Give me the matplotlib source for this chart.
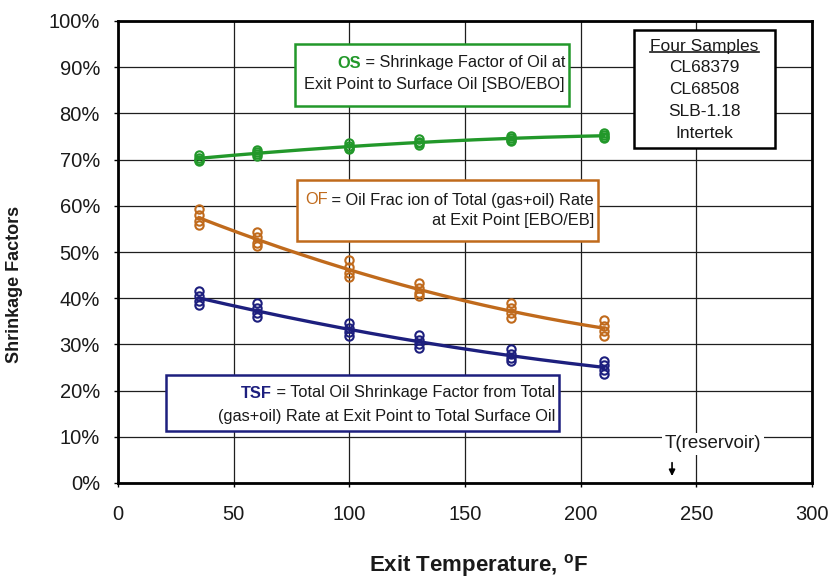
import numpy as np
import matplotlib
matplotlib.use("Agg")
import matplotlib.pyplot as plt
from matplotlib.offsetbox import TextArea, HPacker, AnnotationBbox
from matplotlib.ticker import FuncFormatter
from matplotlib.patches import Rectangle
from matplotlib.lines import Line2D

plt.rcParams['font.family'] = ['Liberation Sans', 'DejaVu Sans']
plt.rcParams['mathtext.fontset'] = 'custom'
plt.rcParams['mathtext.rm'] = 'Liberation Sans'
plt.rcParams['mathtext.bf'] = 'Liberation Sans:bold'

# ---- data ----
temps = [35, 60, 100, 130, 170, 210]
# four samples per temperature (%)
os_vals = [[70.9, 70.4, 70.0, 69.6],
           [72.1, 71.6, 71.2, 70.8],
           [73.5, 73.0, 72.6, 72.2],
           [74.4, 73.9, 73.5, 73.1],
           [75.1, 74.7, 74.3, 74.0],
           [75.8, 75.4, 75.0, 74.6]]
of_vals = [[59.2, 58.0, 56.8, 55.8],
           [54.3, 53.2, 52.0, 51.2],
           [48.2, 46.8, 45.5, 44.5],
           [43.3, 42.2, 41.1, 40.5],
           [39.0, 37.8, 36.7, 35.7],
           [35.2, 34.0, 32.8, 31.9]]
tsf_vals = [[41.5, 40.5, 39.4, 38.6],
            [38.9, 37.8, 36.8, 35.9],
            [34.7, 33.6, 32.6, 31.9],
            [32.0, 31.0, 30.0, 29.3],
            [29.0, 28.0, 27.0, 26.3],
            [26.5, 25.5, 24.5, 23.6]]
samples = ['CL68379', 'CL68508', 'SLB-1.18', 'Intertek']
x_ticks = [0, 50, 100, 150, 200, 250, 300]
y_ticks = [0, 10, 20, 30, 40, 50, 60, 70, 80, 90, 100]

GREEN = '#22982a'
ORANGE = '#c06a1c'
NAVY = '#1d1f7e'
TXT = '#1a1a1a'

W, H = 835, 578
AX_L, AX_R, AX_T, AX_B = 118, 812, 21, 483

fig = plt.figure(figsize=(W/100, H/100), dpi=100)
ax = fig.add_axes([AX_L/W, 1-AX_B/H, (AX_R-AX_L)/W, (AX_B-AX_T)/H])

ax.set_xlim(0, 300)
ax.set_ylim(0, 100)

def px_to_data(px, py):
    return tuple(ax.transData.inverted().transform((px, H - py)))

ax.set_xticks(x_ticks)
ax.set_yticks(y_ticks)
ax.yaxis.set_major_formatter(FuncFormatter(lambda v, p: f'{v:.0f}%'))
ax.grid(True, color='#1e1e1e', lw=0.9, zorder=0)
ax.set_axisbelow(True)
for s in ax.spines.values():
    s.set_linewidth(2.0)
    s.set_color('black')
ax.tick_params(axis='both', direction='out', length=3, width=1,
               labelsize=14.5, colors='black', labelcolor=TXT)
ax.tick_params(axis='x', pad=13)
ax.tick_params(axis='y', pad=10)

def draw_series(vals, color):
    xs = np.repeat(temps, 4)
    ys = np.array(vals).ravel()
    coef = np.polyfit(xs, ys, 2)
    xf = np.linspace(min(temps), max(temps), 200)
    ax.plot(xf, np.polyval(coef, xf), color=color, lw=2.4, zorder=3)
    ax.plot(xs, ys, ls='none', marker='o', ms=6, mfc='none',
            mec=color, mew=1.5, zorder=4)

draw_series(os_vals, GREEN)
draw_series(of_vals, ORANGE)
draw_series(tsf_vals, NAVY)

ax.set_xlabel(r'Exit Temperature, $^{\mathbf{o}}$F', fontsize=16,
              fontweight='bold', color=TXT)
ax.xaxis.set_label_coords(0.52, -0.150)
ax.set_ylabel('Shrinkage Factors', fontsize=13, fontweight='bold', color=TXT)
ax.yaxis.set_label_coords(-0.137, 0.43)

FS = 11.8

def label_box(prefix, pcolor, pbold, line1, line2, box_px, line_ys, ecolor):
    x0, y0, x1, y1 = box_px  # left, top, right, bottom in pixels
    (dx0, dy1) = px_to_data(x0, y1)
    (dx1, dy0) = px_to_data(x1, y0)
    ax.add_patch(Rectangle((dx0, dy1), dx1 - dx0, dy0 - dy1, facecolor='white',
                           edgecolor=ecolor, lw=1.8, zorder=5))
    l1 = HPacker(children=[
        TextArea(prefix, textprops=dict(color=pcolor, fontsize=FS,
                                        fontweight='bold' if pbold else 'normal')),
        TextArea(line1, textprops=dict(color=TXT, fontsize=FS))],
        align='baseline', pad=0, sep=0)
    l2 = TextArea(line2, textprops=dict(color=TXT, fontsize=FS))
    for box, ly in ((l1, line_ys[0]), (l2, line_ys[1])):
        ab = AnnotationBbox(box, px_to_data(x1 - 4, ly), xycoords='data',
                            box_alignment=(1, 0.5), frameon=False, pad=0,
                            zorder=6)
        ax.add_artist(ab)

label_box('OS', GREEN, True, ' = Shrinkage Factor of Oil at',
          'Exit Point to Surface Oil [SBO/EBO]', (295, 44, 569, 106),
          (63, 85), GREEN)
label_box('OF', ORANGE, False, ' = Oil Frac ion of Total (gas+oil) Rate',
          'at Exit Point [EBO/EB]', (297, 180, 598, 241), (200, 221), ORANGE)
label_box('TSF', NAVY, True, ' = Total Oil Shrinkage Factor from Total',
          '(gas+oil) Rate at Exit Point to Total Surface Oil',
          (166, 375, 559, 431), (393, 416), NAVY)

# samples box
(sx0, sy1) = px_to_data(634, 148)
(sx1, sy0) = px_to_data(775, 30)
ax.add_patch(Rectangle((sx0, sy1), sx1 - sx0, sy0 - sy1, facecolor='white',
                       edgecolor='black', lw=1.8, zorder=5))
lines_y = [46, 68, 90, 112, 133]
head = ax.text(*px_to_data(704.5, lines_y[0]), 'Four Samples', ha='center',
               va='center', fontsize=12.5, color=TXT, zorder=6)
for s, py in zip(samples, lines_y[1:]):
    ax.text(*px_to_data(704.5, py), s, ha='center', va='center',
            fontsize=12.5, color=TXT, zorder=6)

tx, ty = px_to_data(713, 444)
ax.text(tx, ty, 'T(reservoir)', ha='center', va='center', fontsize=13.5,
        color=TXT, bbox=dict(facecolor='white', edgecolor='none', pad=2), zorder=5)
ax.annotate('', xy=(239.5, 0.9), xytext=(239.5, 5.0),
            arrowprops=dict(arrowstyle='-|>', color='black', lw=1.2,
                            mutation_scale=9), zorder=6)

fig.canvas.draw()
bb = head.get_window_extent()
uy = bb.y0 + 1.5
fig.add_artist(Line2D([bb.x0, bb.x1], [uy, uy], transform=None,
                      color=TXT, lw=1.2, zorder=7))

fig.savefig('out.png', dpi=100)
